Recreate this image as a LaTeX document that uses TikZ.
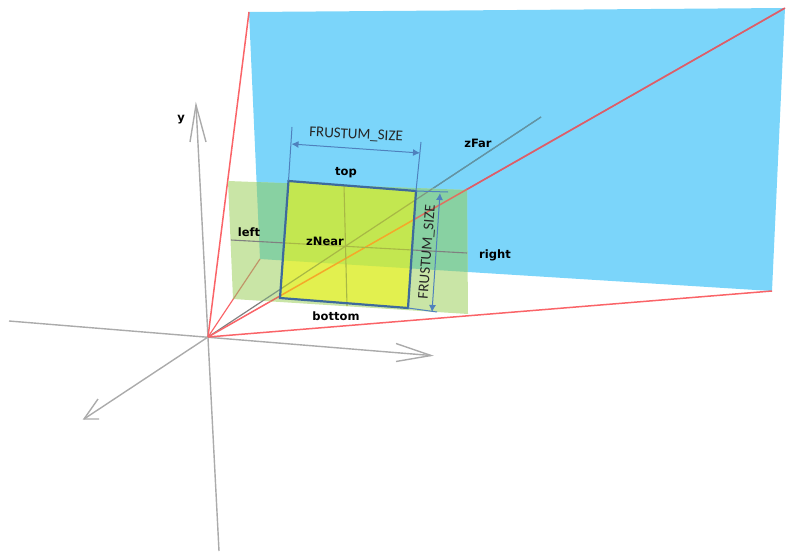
\documentclass[tikz,border=0pt]{standalone}
\usepackage{fontspec}
\setmainfont{Carlito}
\newfontfamily\lblfont{DejaVu Sans}
\usetikzlibrary{arrows.meta}
\definecolor{skyb}{HTML}{7BD5FA}
\definecolor{grlight}{HTML}{C9E5A6}
\definecolor{grdark}{HTML}{88D1A2}
\definecolor{yelllight}{HTML}{E2F04F}
\definecolor{yelldark}{HTML}{C3E750}
\definecolor{frame}{HTML}{3E6A9C}
\definecolor{dim}{HTML}{4F81BD}
\definecolor{redl}{HTML}{FA6468}
\definecolor{redblue}{HTML}{D95F6B}
\definecolor{redgreen}{HTML}{E0705F}
\definecolor{redyellow}{HTML}{F5A829}
\definecolor{tanl}{HTML}{C09468}
\definecolor{axisg}{HTML}{ABABAB}
\definecolor{greyl}{HTML}{808080}
\definecolor{greyblue}{HTML}{5E96A8}
\definecolor{greygreen}{HTML}{7F9A80}
\definecolor{olive}{HTML}{A8B845}
\tikzset{
  axisline/.style={draw=axisg,line width=1.4pt},
  rayline/.style={line width=1.5pt},
  thinray/.style={line width=1.2pt},
  midline/.style={line width=1.1pt},
  dimline/.style={draw=dim,line width=1pt},
  dimarrow/.style={draw=dim,line width=1pt,{Latex[length=7pt,width=7pt]}-{Latex[length=7pt,width=7pt]}},
  lbl/.style={font=\lblfont\bfseries\fontsize{11.5}{13}\selectfont,inner sep=0pt,text=black},
  dimlbl/.style={font=\fontsize{15}{17}\selectfont,inner sep=0pt,text=black!85}
}
\begin{document}
\begin{tikzpicture}[x=1pt,y=-1pt]
\useasboundingbox (0,0) rectangle (794,559);
% key points
\coordinate (O) at (208,337);
\coordinate (BA) at (249,12);
\coordinate (BB) at (785,8);
\coordinate (BC) at (772,291);
\coordinate (BD) at (260,259);
\coordinate (GA) at (228,181);
\coordinate (GB) at (467,190);
\coordinate (GC) at (468,314);
\coordinate (GD) at (233,299);
\coordinate (SA) at (288.5,181);
\coordinate (SB) at (416,191);
\coordinate (SC) at (408,308);
\coordinate (SD) at (280,298);
\coordinate (FE) at (541,117);
\coordinate (HL) at (231,240);
\coordinate (HR) at (467,253);
\coordinate (VT) at (344,185);
\coordinate (VB) at (347,306);
% surfaces
\fill[skyb] (BA)--(BB)--(BC)--(BD)--cycle;
% axes
\coordinate (YE) at (196,105);
\coordinate (YS) at (219,551);
\coordinate (XS) at (9,321);
\coordinate (XE) at (431,355.5);
\coordinate (ZE) at (84,419);
\draw[axisline] (YS)--(YE);
\draw[axisline] (190,142)--(YE)--(206,142);
\draw[axisline] (XS)--(XE);
\draw[axisline] (396,343.5)--(XE)--(396,361.5);
\draw[axisline] (O)--(ZE);
\draw[axisline] (98,399)--(ZE)--(99,419);
% rays over white
\draw[rayline,redl] (O)--(BA);
\draw[rayline,redl] (O)--(BC);
\draw[thinray,redl] (O)--(BD);
\draw[thinray,greyl] (O)--(FE);
\draw[rayline,redl] (O)--(BB);
% rays over blue
\begin{scope}
  \clip (BA)--(BB)--(BC)--(BD)--cycle;
  \draw[thinray,greyblue] (O)--(FE);
  \draw[rayline,redblue] (O)--(BB);
\end{scope}
% green plane and what shows through it
\fill[grlight] (GA)--(GB)--(GC)--(GD)--cycle;
\begin{scope}
  \clip (BA)--(BB)--(BC)--(BD)--cycle;
  \fill[grdark] (GA)--(GB)--(GC)--(GD)--cycle;
\end{scope}
\begin{scope}
  \clip (GA)--(GB)--(GC)--(GD)--cycle;
  \draw[thinray,tanl] (O)--(BD);
  \draw[thinray,greygreen] (O)--(FE);
  \draw[rayline,redgreen] (O)--(BB);
\end{scope}
\draw[midline,greyl] (HL)--(HR);
% near plane and what shows through it
\fill[yelllight] (SA)--(SB)--(SC)--(SD)--cycle;
\begin{scope}
  \clip (BA)--(BB)--(BC)--(BD)--cycle;
  \fill[yelldark] (SA)--(SB)--(SC)--(SD)--cycle;
\end{scope}
\begin{scope}
  \clip (SA)--(SB)--(SC)--(SD)--cycle;
  \draw[thinray,olive] (O)--(FE);
  \draw[rayline,redyellow] (O)--(BB);
  \draw[midline,olive] (HL)--(HR);
\end{scope}
\draw[midline,olive] (VT)--(VB);
% near plane frame
\draw[frame,line width=2.2pt,line join=miter] (SA)--(SB)--(SC)--(SD)--cycle;
% dimensions
\coordinate (E1) at (292,127);
\coordinate (E2) at (421,142);
\coordinate (E3) at (448,192);
\coordinate (E4) at (437,312);
\draw[dimline] (E1)--(SA);
\draw[dimline] (E2)--(SB);
\draw[dimline] (SB)--(E3);
\draw[dimline] (SC)--(E4);
\coordinate (A1) at (291.5,144);
\coordinate (A2) at (420,153);
\coordinate (A3) at (440,193);
\coordinate (A4) at (432,312);
\draw[dimarrow] (A1)--(A2);
\draw[dimarrow] (A3)--(A4);
\node[dimlbl,rotate=-3] (fs1) at (356,135) {FRUSTUM\_SIZE};
\node[dimlbl,rotate=85.5] (fs2) at (427.5,252) {FRUSTUM\_SIZE};
% labels
\node[lbl] (ly) at (181,120) {y};
\node[lbl] (ltop) at (346,173) {top};
\node[lbl] (lleft) at (249,232) {left};
\node[lbl] (lnear) at (325,241) {zNear};
\node[lbl] (lright) at (495,255) {right};
\node[lbl] (lbottom) at (336,316) {bottom};
\node[lbl] (lfar) at (478,143) {zFar};
\end{tikzpicture}
\end{document}
